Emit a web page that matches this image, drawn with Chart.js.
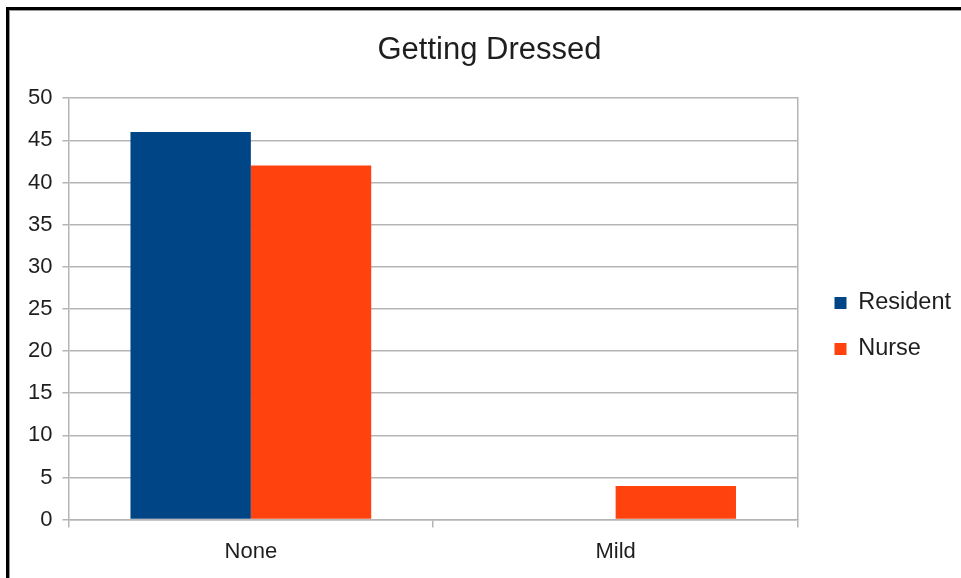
<!DOCTYPE html>
<html>
<head>
<meta charset="utf-8">
<script src="https://cdn.jsdelivr.net/npm/chart.js@4/dist/chart.umd.min.js"></script>
<style>
  html, body { margin: 0; padding: 0; background: #fff; }
  #wrap { position: relative; width: 961px; height: 578px; }
  #frame {
    position: absolute; left: 6px; top: 7px; right: 0; bottom: 0;
    border-left: 3px solid #000; border-top: 3px solid #000;
    box-shadow: inset 1px 1px 0 #999;
    pointer-events: none;
  }
  canvas { position: absolute; left: 0; top: 0; }
</style>
</head>
<body>
<div id="wrap">
  <canvas id="chart1" width="961" height="578"></canvas>
  <div id="frame"></div>
</div>
<script>
// data
var categories = ["None", "Mild"];
var resident = [46, 0];
var nurse = [42, 4];
var seriesNames = ["Resident", "Nurse"];
var yTicks = [0, 5, 10, 15, 20, 25, 30, 35, 40, 45, 50];

var gridColor = "#b5b5b5";
var textColor = "#1e1e1e";
var fontFamily = "'Liberation Sans', Arial, Helvetica, sans-serif";

new Chart(document.getElementById("chart1"), {
  type: "bar",
  data: {
    labels: categories,
    datasets: [{
      label: seriesNames[0],
      data: resident,
      backgroundColor: "#004586",
      categoryPercentage: 0.66,
      barPercentage: 1.0
    }, {
      label: seriesNames[1],
      data: nurse,
      backgroundColor: "#ff420e",
      categoryPercentage: 0.66,
      barPercentage: 1.0
    }]
  },
  options: {
    responsive: false,
    animation: false,
    layout: { padding: { top: 32, left: 18, right: 0, bottom: 2 } },
    plugins: {
      title: {
        display: true,
        text: "Getting Dressed",
        color: textColor,
        font: { family: fontFamily, size: 31, weight: "normal" },
        padding: { top: 0, bottom: 29 }
      },
      legend: {
        position: "right",
        // blank title only pushes the items down a little
        title: { display: true, text: " ", font: { size: 15 }, padding: 13 },
        labels: {
          color: textColor,
          font: { family: fontFamily, size: 23.5 },
          boxWidth: 12,
          boxHeight: 12,
          padding: 22.5
        }
      },
      tooltip: { enabled: false }
    },
    scales: {
      x: {
        grid: {
          offset: true,
          drawOnChartArea: false,
          color: gridColor,
          lineWidth: 1.5,
          tickLength: 8
        },
        border: { color: gridColor, width: 1.5 },
        ticks: {
          color: textColor,
          font: { family: fontFamily, size: 22 },
          padding: 11
        }
      },
      y: {
        min: 0,
        max: 50,
        afterBuildTicks: function (axis) {
          axis.ticks = yTicks.map(function (v) { return { value: v }; });
        },
        grid: { color: gridColor, lineWidth: 1.5, tickLength: 6 },
        border: { color: gridColor, width: 1.5 },
        ticks: {
          color: textColor,
          font: { family: fontFamily, size: 22 },
          padding: 10
        }
      },
      // empty right axis: only its border line, plus a gap before the legend
      y2: {
        position: "right",
        min: 0,
        max: 50,
        grid: { display: false },
        ticks: { display: false },
        border: { display: true, color: gridColor, width: 1.5 },
        afterFit: function (axis) { axis.width = 14; }
      }
    }
  }
});
</script>
</body>
</html>
